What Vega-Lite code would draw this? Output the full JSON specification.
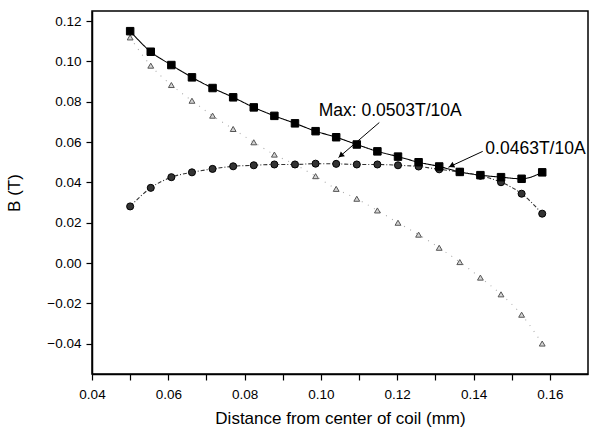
{
  "$schema": "https://vega.github.io/schema/vega-lite/v6.json",
  "autosize": {"type": "none"},
  "padding": {"left": 92, "top": 11, "right": 2, "bottom": 60},
  "width": 496,
  "height": 363,
  "background": "white",
  "datasets": {
    "main": [
      {"d": 0.05, "s": "B", "v": 0.115}, {"d": 0.0554, "s": "B", "v": 0.1048}, {"d": 0.0608, "s": "B", "v": 0.0982},
      {"d": 0.0662, "s": "B", "v": 0.0921}, {"d": 0.0716, "s": "B", "v": 0.0868}, {"d": 0.077, "s": "B", "v": 0.0822},
      {"d": 0.0824, "s": "B", "v": 0.0772}, {"d": 0.0878, "s": "B", "v": 0.073}, {"d": 0.0932, "s": "B", "v": 0.0693},
      {"d": 0.0986, "s": "B", "v": 0.0654}, {"d": 0.104, "s": "B", "v": 0.0624}, {"d": 0.1094, "s": "B", "v": 0.0588},
      {"d": 0.1148, "s": "B", "v": 0.0554}, {"d": 0.1202, "s": "B", "v": 0.0528}, {"d": 0.1256, "s": "B", "v": 0.05},
      {"d": 0.131, "s": "B", "v": 0.0479}, {"d": 0.1364, "s": "B", "v": 0.0452}, {"d": 0.1418, "s": "B", "v": 0.0436},
      {"d": 0.1472, "s": "B", "v": 0.0426}, {"d": 0.1526, "s": "B", "v": 0.0418}, {"d": 0.158, "s": "B", "v": 0.045},
      {"d": 0.05, "s": "Bx", "v": 0.0281}, {"d": 0.0554, "s": "Bx", "v": 0.0373}, {"d": 0.0608, "s": "Bx", "v": 0.0426},
      {"d": 0.0662, "s": "Bx", "v": 0.045}, {"d": 0.0716, "s": "Bx", "v": 0.0467}, {"d": 0.077, "s": "Bx", "v": 0.048},
      {"d": 0.0824, "s": "Bx", "v": 0.0485}, {"d": 0.0878, "s": "Bx", "v": 0.0489}, {"d": 0.0932, "s": "Bx", "v": 0.0489},
      {"d": 0.0986, "s": "Bx", "v": 0.0493}, {"d": 0.104, "s": "Bx", "v": 0.0492}, {"d": 0.1094, "s": "Bx", "v": 0.0489},
      {"d": 0.1148, "s": "Bx", "v": 0.0489}, {"d": 0.1202, "s": "Bx", "v": 0.0485}, {"d": 0.1256, "s": "Bx", "v": 0.0479},
      {"d": 0.131, "s": "Bx", "v": 0.0465}, {"d": 0.1364, "s": "Bx", "v": 0.0452}, {"d": 0.1418, "s": "Bx", "v": 0.0433},
      {"d": 0.1472, "s": "Bx", "v": 0.0401}, {"d": 0.1526, "s": "Bx", "v": 0.0344}, {"d": 0.158, "s": "Bx", "v": 0.0245},
      {"d": 0.05, "s": "By", "v": 0.1119}, {"d": 0.0554, "s": "By", "v": 0.0979}, {"d": 0.0608, "s": "By", "v": 0.0883},
      {"d": 0.0662, "s": "By", "v": 0.0805}, {"d": 0.0716, "s": "By", "v": 0.0731}, {"d": 0.077, "s": "By", "v": 0.0665},
      {"d": 0.0824, "s": "By", "v": 0.0599}, {"d": 0.0878, "s": "By", "v": 0.0538}, {"d": 0.0932, "s": "By", "v": 0.0489},
      {"d": 0.0986, "s": "By", "v": 0.0431}, {"d": 0.104, "s": "By", "v": 0.0368}, {"d": 0.1094, "s": "By", "v": 0.0319},
      {"d": 0.1148, "s": "By", "v": 0.0261}, {"d": 0.1202, "s": "By", "v": 0.02}, {"d": 0.1256, "s": "By", "v": 0.0141},
      {"d": 0.131, "s": "By", "v": 0.0076}, {"d": 0.1364, "s": "By", "v": 0.0005}, {"d": 0.1418, "s": "By", "v": -0.0072},
      {"d": 0.1472, "s": "By", "v": -0.0155}, {"d": 0.1526, "s": "By", "v": -0.0256}, {"d": 0.158, "s": "By", "v": -0.0399}
    ],
    "notes": [
      {"x": 0.0994, "y": 0.0731, "t": "Max: 0.0503T/10A", "x1": 0.1153, "y1": 0.0697, "x2": 0.1046, "y2": 0.0523, "hx": 0.1052, "hy": 0.0533, "a": 229.5},
      {"x": 0.1431, "y": 0.0542, "t": "0.0463T/10A", "x1": 0.1424, "y1": 0.0554, "x2": 0.1334, "y2": 0.0475, "hx": 0.1342, "hy": 0.0482, "a": 244.8}
    ],
    "key": [{"s": "B"}]
  },
  "encoding": {
    "x": {"field": "d", "type": "quantitative", "scale": {"domain": [0.04, 0.17], "nice": false, "zero": false}},
    "y": {"field": "v", "type": "quantitative", "scale": {"domain": [-0.055, 0.125], "nice": false, "zero": false}}
  },
  "layer": [
    {
      "data": {"name": "main"},
      "mark": {"type": "line", "interpolate": "monotone", "strokeWidth": 1.1},
      "encoding": {
        "x": {
          "field": "d", "type": "quantitative",
          "scale": {"domain": [0.04, 0.17], "nice": false, "zero": false},
          "axis": {
            "values": [0.04, 0.05, 0.06, 0.07, 0.08, 0.09, 0.1, 0.11, 0.12, 0.13, 0.14, 0.15, 0.16],
            "labelExpr": "round(datum.value*100)%2==0 ? replace(format(datum.value, '.2f'), '\u2212', '-') : ''",
            "labelFlush": false,
            "labelOverlap": false,
            "tickSize": 6,
            "labelPadding": 7,
            "title": "Distance from center of coil (mm)",
            "titleY": 44,
            "titleBaseline": "middle"
          }
        },
        "y": {
          "field": "v", "type": "quantitative",
          "scale": {"domain": [-0.055, 0.125], "nice": false, "zero": false},
          "axis": {
            "tickCount": 10,
            "format": ".2f",
            "tickSize": 6,
            "labelPadding": 5,
            "title": "B (T)",
            "titlePadding": 23
          }
        },
        "detail": {"field": "s", "type": "nominal"},
        "color": {"field": "s", "type": "nominal", "scale": {"domain": ["B", "Bx", "By"], "range": ["#000000", "#333333", "#aaaaaa"]}, "legend": null},
        "strokeDash": {"field": "s", "type": "nominal", "scale": {"domain": ["B", "Bx", "By"], "range": [[1, 0], [4, 2, 1, 2], [1, 6]]}, "legend": null}
      }
    },
    {
      "data": {"name": "main"},
      "transform": [{"filter": "datum.s === 'By'"}],
      "mark": {"type": "point", "shape": "triangle-up", "filled": true, "fill": "#d4d4d4", "stroke": "#555555", "strokeWidth": 1, "size": 34, "opacity": 1}
    },
    {
      "data": {"name": "main"},
      "transform": [{"filter": "datum.s === 'Bx'"}],
      "mark": {"type": "point", "shape": "circle", "filled": true, "fill": "#333333", "stroke": "#000000", "strokeWidth": 1, "size": 50, "opacity": 1}
    },
    {
      "data": {"name": "main"},
      "transform": [{"filter": "datum.s === 'B'"}],
      "mark": {"type": "point", "shape": "square", "filled": true, "fill": "#000000", "stroke": "#000000", "strokeWidth": 1, "size": 56, "opacity": 1}
    },
    {
      "data": {"name": "notes"},
      "mark": {"type": "rule", "color": "black", "strokeWidth": 1},
      "encoding": {
        "x": {"field": "x1", "type": "quantitative"},
        "y": {"field": "y1", "type": "quantitative"},
        "x2": {"field": "x2"},
        "y2": {"field": "y2"}
      }
    },
    {
      "data": {"name": "notes"},
      "mark": {"type": "point", "shape": "triangle-up", "filled": true, "color": "black", "size": 40, "opacity": 1},
      "encoding": {
        "x": {"field": "hx", "type": "quantitative"},
        "y": {"field": "hy", "type": "quantitative"},
        "angle": {"field": "a", "type": "quantitative", "scale": null}
      }
    },
    {
      "data": {"name": "notes"},
      "mark": {"type": "text", "align": "left", "baseline": "alphabetic", "font": "Liberation Sans", "fontSize": 17.5, "color": "black"},
      "encoding": {
        "x": {"field": "x", "type": "quantitative"},
        "y": {"field": "y", "type": "quantitative"},
        "text": {"field": "t", "type": "nominal"}
      }
    },
    {
      "data": {"name": "key"},
      "mark": {"type": "rect", "fill": "white", "stroke": "black", "strokeWidth": 1.2},
      "encoding": {
        "x": {"datum": 0.05127, "type": "quantitative"},
        "x2": {"datum": 0.07138},
        "y": {"datum": 0.00203, "type": "quantitative"},
        "y2": {"datum": -0.03368}
      }
    },
    {
      "data": {"name": "key"},
      "mark": {"type": "rule", "color": "black", "strokeWidth": 1},
      "encoding": {
        "x": {"datum": 0.05303, "type": "quantitative"},
        "x2": {"datum": 0.06307},
        "y": {"datum": -0.00506, "type": "quantitative"}
      }
    },
    {
      "data": {"name": "key"},
      "mark": {"type": "rule", "color": "#333333", "strokeWidth": 1, "strokeDash": [2, 2]},
      "encoding": {
        "x": {"datum": 0.05303, "type": "quantitative"},
        "x2": {"datum": 0.06307},
        "y": {"datum": -0.01696, "type": "quantitative"}
      }
    },
    {
      "data": {"name": "key"},
      "mark": {"type": "point", "shape": "square", "filled": true, "fill": "#000000", "stroke": "#000000", "strokeWidth": 1, "size": 56, "opacity": 1},
      "encoding": {
        "x": {"datum": 0.05796, "type": "quantitative"},
        "y": {"datum": -0.00506, "type": "quantitative"}
      }
    },
    {
      "data": {"name": "key"},
      "mark": {"type": "point", "shape": "circle", "filled": true, "fill": "#333333", "stroke": "#000000", "strokeWidth": 1, "size": 50, "opacity": 1},
      "encoding": {
        "x": {"datum": 0.05796, "type": "quantitative"},
        "y": {"datum": -0.01696, "type": "quantitative"}
      }
    },
    {
      "data": {"name": "key"},
      "mark": {"type": "point", "shape": "triangle-up", "filled": true, "fill": "#d4d4d4", "stroke": "#555555", "strokeWidth": 1, "size": 30, "opacity": 1},
      "encoding": {
        "x": {"datum": 0.05738, "type": "quantitative"},
        "y": {"datum": -0.02658, "type": "quantitative"}
      }
    },
    {
      "data": {"name": "key"},
      "mark": {"type": "text", "align": "left", "baseline": "middle", "font": "Liberation Sans", "fontSize": 17, "color": "black"},
      "encoding": {
        "x": {"datum": 0.06438, "type": "quantitative"},
        "y": {"datum": -0.00506, "type": "quantitative"},
        "text": {"value": "B"}
      }
    },
    {
      "data": {"name": "key"},
      "mark": {"type": "text", "align": "left", "baseline": "middle", "font": "Liberation Sans", "fontSize": 17, "color": "black"},
      "encoding": {
        "x": {"datum": 0.06438, "type": "quantitative"},
        "y": {"datum": -0.01696, "type": "quantitative"},
        "text": {"value": "Bx"}
      }
    },
    {
      "data": {"name": "key"},
      "mark": {"type": "text", "align": "left", "baseline": "middle", "font": "Liberation Sans", "fontSize": 17, "color": "black"},
      "encoding": {
        "x": {"datum": 0.06438, "type": "quantitative"},
        "y": {"datum": -0.02658, "type": "quantitative"},
        "text": {"value": "By"}
      }
    }
  ],
  "config": {
    "font": "Liberation Sans",
    "view": {"stroke": "black", "strokeWidth": 1.5},
    "axis": {
      "grid": false,
      "domainColor": "black",
      "domainWidth": 1.5,
      "tickColor": "black",
      "tickWidth": 1.2,
      "labelColor": "black",
      "titleColor": "black",
      "labelFont": "Liberation Sans",
      "titleFont": "Liberation Sans",
      "labelFontSize": 13.5,
      "titleFontSize": 17,
      "titleFontWeight": "normal"
    }
  }
}
